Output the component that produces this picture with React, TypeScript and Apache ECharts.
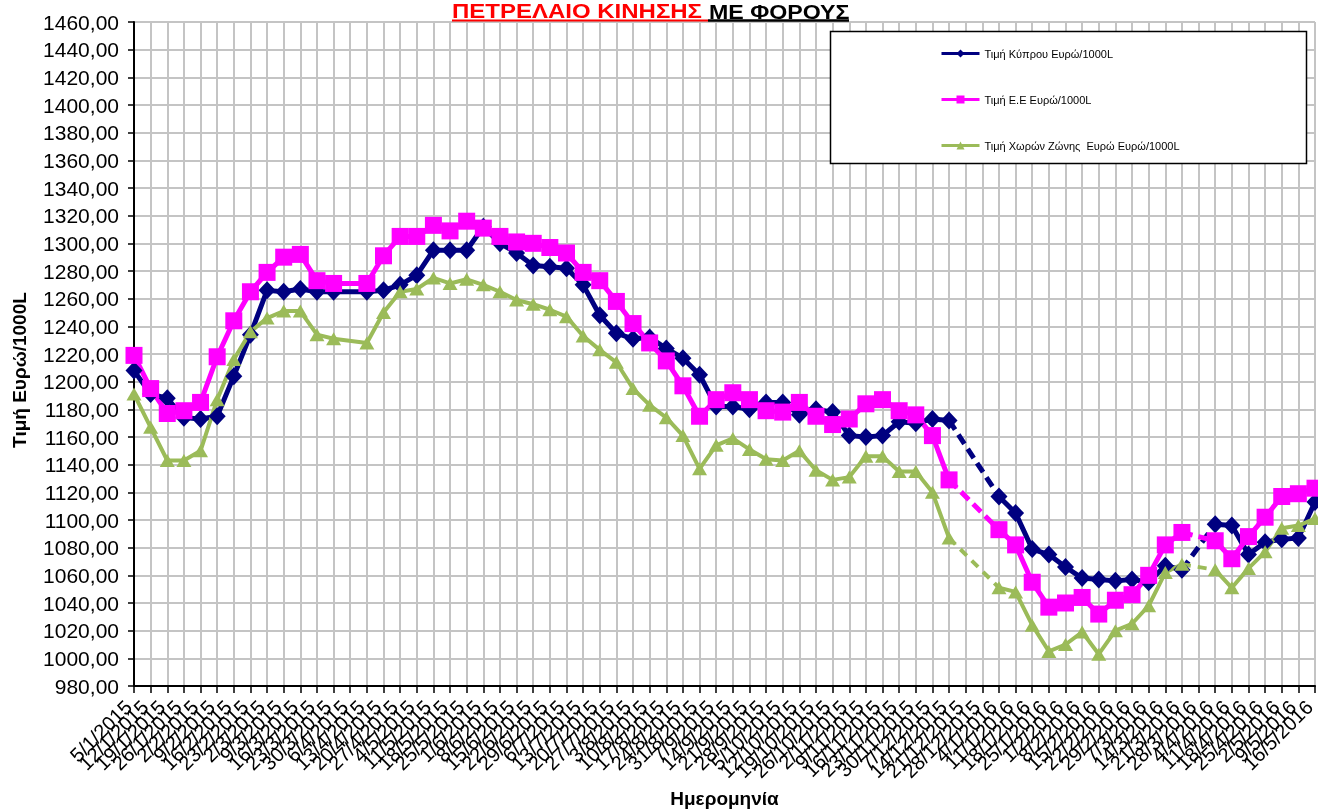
import React, { useEffect, useRef } from "react";
import * as echarts from "echarts";

const dates = [
  "5/1/2015","12/1/2015","19/1/2015","26/1/2015","2/2/2015","9/2/2015","16/2/2015","23/2/2015",
  "2/3/2015","9/3/2015","16/3/2015","23/3/2015","30/3/2015","6/4/2015","13/4/2015","20/4/2015",
  "27/4/2015","4/5/2015","11/5/2015","18/5/2015","25/5/2015","1/6/2015","8/6/2015","15/6/2015",
  "22/6/2015","29/6/2015","6/7/2015","13/7/2015","20/7/2015","27/7/2015","3/8/2015","10/8/2015",
  "17/8/2015","24/8/2015","31/8/2015","7/9/2015","14/9/2015","21/9/2015","28/9/2015","5/10/2015",
  "12/10/2015","19/10/2015","26/10/2015","2/11/2015","9/11/2015","16/11/2015","23/11/2015","30/11/2015",
  "7/12/2015","14/12/2015","21/12/2015","28/12/2015","4/1/2016","11/1/2016","18/1/2016","25/1/2016",
  "1/2/2016","8/2/2016","15/2/2016","22/2/2016","29/2/2016","7/3/2016","14/3/2016","21/3/2016",
  "28/3/2016","4/4/2016","11/4/2016","18/4/2016","25/4/2016","2/5/2016","9/5/2016","16/5/2016",
];

const cyprus = [
  1208, 1191, 1188, 1174, 1173, 1175, 1204, 1234, 1266, 1265, 1267, 1265, 1265, null, 1265, 1266,
  1270, 1277, 1295, 1295, 1295, 1312, 1300, 1293, 1284, 1283, 1282, 1270, 1248, 1235, 1231, 1232,
  1224, 1217, 1205, 1182, 1182, 1180, 1185, 1185, 1176, 1180, 1178, 1161, 1160, 1161, 1171, 1170,
  1173, 1172, null, null, 1117, 1105, 1079, 1075, 1066, 1058, 1057, 1056, 1057, 1055, 1067, 1064,
  null, 1097, 1096, 1075, 1084, 1086, 1087, 1113,
];

const eu = [
  1219, 1195, 1177, 1179, 1185, 1218, 1244, 1265, 1279, 1290, 1292, 1273, 1271, null, 1271, 1291,
  1305, 1305, 1313, 1309, 1316, 1311, 1305, 1301, 1300, 1297, 1293, 1279, 1273, 1258, 1242, 1228,
  1215, 1197, 1175, 1187, 1192, 1187, 1179, 1178, 1185, 1175, 1169, 1173, 1184, 1187, 1179, 1176,
  1161, 1129, null, null, 1093, 1082, 1055, 1037, 1040, 1044, 1032, 1042, 1046, 1060, 1082, 1091,
  null, 1085, 1072, 1088, 1102, 1117, 1119, 1123,
];

const euroZone = [
  1191, 1167, 1143, 1143, 1150, 1187, 1216, 1236, 1246, 1251, 1251, 1234, 1231, null, 1228, 1250,
  1265, 1267, 1275, 1271, 1274, 1270, 1265, 1259, 1256, 1252, 1247, 1233, 1223, 1214, 1195, 1183,
  1174, 1161, 1137, 1154, 1159, 1151, 1144, 1143, 1150, 1136, 1129, 1131, 1146, 1146, 1135, 1135,
  1120, 1087, null, null, 1051, 1048, 1024, 1005, 1010, 1019, 1003, 1020, 1025, 1038, 1062, 1068,
  null, 1064, 1051, 1065, 1077, 1094, 1096, 1101,
];

// weeks without data whose bridging line is drawn dashed
const dashedGapDates = ["21/12/2015", "28/12/2015", "28/3/2016"];

const seriesNames = [
  "Τιμή Κύπρου Ευρώ/1000L",
  "Τιμή Ε.Ε Ευρώ/1000L",
  "Τιμή Χωρών Ζώνης  Ευρώ Ευρώ/1000L",
];

const FONT = 'Arial, "Liberation Sans", sans-serif';

function findGaps(values: (number | null)[]) {
  const gaps: { from: number; to: number }[] = [];
  let i = 0;
  while (i < values.length) {
    if (values[i] == null) {
      let j = i;
      while (j + 1 < values.length && values[j + 1] == null) j++;
      if (i > 0 && j < values.length - 1) gaps.push({ from: i - 1, to: j + 1 });
      i = j + 1;
    } else i++;
  }
  return gaps;
}

export default function App() {
  const ref = useRef<HTMLDivElement>(null);
  useEffect(() => {
    if (!ref.current) return;
    const chart = echarts.init(ref.current, undefined, { renderer: "svg" });

    const defs = [
      { name: seriesNames[0], data: cyprus, color: "#000080", symbol: "diamond", size: [17, 18], width: 5, dash: [11, 6] },
      { name: seriesNames[1], data: eu, color: "#FF00FF", symbol: "rect", size: 17, width: 5, dash: [11, 6] },
      { name: seriesNames[2], data: euroZone, color: "#9BBB59", symbol: "triangle", size: [15, 13], width: 4, dash: [9, 7] },
    ];

    const series: any[] = [];
    defs.forEach((d) => {
      series.push({
        name: d.name,
        type: "line",
        data: d.data,
        connectNulls: false,
        symbol: d.symbol,
        symbolSize: d.size,
        showAllSymbol: true,
        itemStyle: { color: d.color },
        lineStyle: { color: d.color, width: d.width },
      });
    });
    defs.forEach((d, si) => {
      findGaps(d.data).forEach((g, k) => {
        const dashed = dates.slice(g.from + 1, g.to).some((lab) => dashedGapDates.includes(lab));
        const bridge = d.data.map((v, idx) => (idx === g.from || idx === g.to ? v : null));
        series.push({
          name: `gap-${si}-${k}`,
          type: "line",
          data: bridge,
          connectNulls: true,
          symbol: "none",
          silent: true,
          lineStyle: { color: d.color, width: d.width, type: dashed ? d.dash : "solid" },
          z: 1,
        });
      });
    });

    chart.setOption({
      animation: false,
      textStyle: { fontFamily: FONT },
      grid: { left: 134, right: 3, top: 22, bottom: 124, containLabel: false, outerBoundsMode: "none" },
      xAxis: {
        type: "category",
        data: dates,
        boundaryGap: false,
        axisLine: { lineStyle: { color: "#000", width: 2 } },
        axisTick: { show: true, interval: 0, length: 7, lineStyle: { color: "#000", width: 1.5 } },
        axisLabel: {
          interval: 0,
          rotate: 45,
          fontSize: 20,
          color: "#000",
          margin: 12,
          padding: [0, 8, 0, 0],
          fontFamily: FONT,
        },
        splitLine: { show: true, interval: 0, lineStyle: { color: "#c4c4c4", width: 2 } },
        name: "Ημερομηνία",
        nameLocation: "middle",
        nameGap: 99,
        nameTextStyle: { fontSize: 19, fontWeight: "bold", color: "#000", fontFamily: FONT },
      },
      yAxis: {
        type: "value",
        min: 980,
        max: 1460,
        interval: 20,
        axisLine: { show: true, lineStyle: { color: "#000", width: 2 } },
        axisTick: { show: true, length: 6, lineStyle: { color: "#000", width: 1.5 } },
        axisLabel: {
          fontSize: 21,
          color: "#000",
          margin: 15,
          fontFamily: FONT,
          formatter: (v: number) => v.toFixed(2).replace(".", ","),
        },
        splitLine: { show: true, lineStyle: { color: "#c4c4c4", width: 2 } },
      },
      legend: {
        data: seriesNames,
        orient: "vertical",
        left: 940,
        top: 48,
        padding: 0,
        itemGap: 35,
        itemWidth: 38,
        itemHeight: 10,
        lineStyle: { width: 3 },
        textStyle: { fontSize: 11, color: "#000", fontFamily: FONT },
        z: 5,
      },
      graphic: [
        {
          type: "rect",
          z: 3,
          shape: { x: 830.5, y: 31.5, width: 476, height: 132 },
          style: { fill: "#fff", stroke: "#000", lineWidth: 1.5 },
        },
        {
          type: "text",
          x: 19,
          y: 370,
          rotation: Math.PI / 2,
          z: 5,
          style: {
            text: "Τιμή Ευρώ/1000L",
            fill: "#000",
            font: `bold 19px ${FONT}`,
            align: "center",
            verticalAlign: "middle",
          },
        },
        {
          type: "text",
          x: 452,
          y: 11.6,
          scaleX: 1.2,
          z: 5,
          style: { text: "ΠΕΤΡΕΛΑΙΟ ΚΙΝΗΣΗΣ", fill: "#FF0000", font: `bold 20px ${FONT}`, verticalAlign: "middle" },
        },
        {
          type: "text",
          x: 709,
          y: 11.6,
          scaleX: 1.16,
          z: 5,
          style: { text: "ΜΕ ΦΟΡΟΥΣ", fill: "#000", font: `bold 20px ${FONT}`, verticalAlign: "middle" },
        },
        { type: "line", z: 5, shape: { x1: 452, y1: 20.5, x2: 708, y2: 20.5 }, style: { stroke: "#FF0000", lineWidth: 2 } },
        { type: "line", z: 5, shape: { x1: 708, y1: 20.5, x2: 849, y2: 20.5 }, style: { stroke: "#000", lineWidth: 2.5 } },
      ],
      series,
    });
    return () => chart.dispose();
  }, []);
  return <div ref={ref} style={{ position: "fixed", left: 0, top: 0, width: 1318, height: 810 }} />;
}
